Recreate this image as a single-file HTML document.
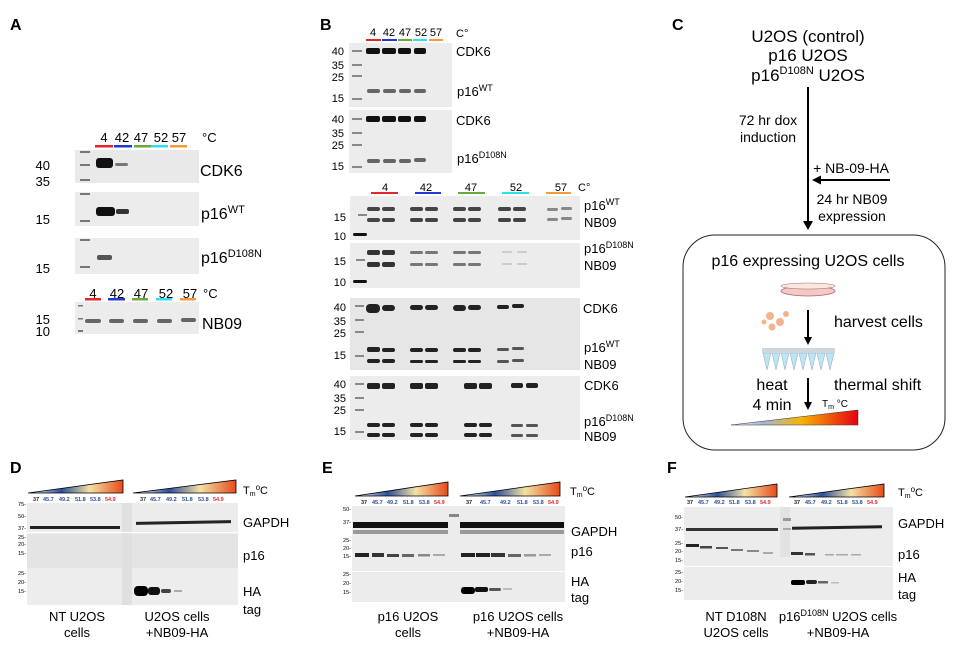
<!DOCTYPE html>
<html><head><meta charset="utf-8"><style>
html,body{margin:0;padding:0;background:#fff}
svg{display:block;font-family:"Liberation Sans",Arial,sans-serif}
</style></head><body>
<svg width="966" height="655" viewBox="0 0 966 655" xmlns="http://www.w3.org/2000/svg">
<defs>
<linearGradient id="tg" x1="0" x2="1" y1="0" y2="0">
<stop offset="0" stop-color="#fff"/><stop offset="0.35" stop-color="#2a4f9a"/><stop offset="0.65" stop-color="#f3e2a4"/><stop offset="1" stop-color="#e84a1a"/></linearGradient>
<linearGradient id="tg2" x1="0" x2="1"><stop offset="0" stop-color="#fff"/><stop offset="0.25" stop-color="#9fb6dc"/><stop offset="0.55" stop-color="#f8b400"/><stop offset="1" stop-color="#e60012"/></linearGradient>
</defs>
<g font-weight="bold" font-size="16"><text x="10" y="30">A</text><text x="320" y="30">B</text><text x="672" y="30">C</text><text x="10" y="473">D</text><text x="322" y="473">E</text><text x="667" y="473">F</text></g>

<!-- PANEL A -->
<g font-size="13" text-anchor="middle">
<text x="104" y="142">4</text><text x="122" y="142">42</text><text x="141" y="142">47</text><text x="161" y="142">52</text><text x="179" y="142">57</text>
</g>
<text x="202" y="142" font-size="13">°C</text>
<rect x="95" y="145" width="18" height="2.5" fill="#e8262a"/><rect x="114" y="145" width="18" height="2.5" fill="#2436d6"/><rect x="134" y="145" width="17" height="2.5" fill="#6aaa3a"/><rect x="151" y="145" width="17" height="2.5" fill="#2de0ee"/><rect x="170" y="145" width="17" height="2.5" fill="#f59a3a"/>
<rect x="75" y="150" width="124" height="33" fill="#e9e9e9"/>
<rect x="75" y="192" width="124" height="34" fill="#ececec"/>
<rect x="75" y="238" width="124" height="36" fill="#ececec"/>
<rect x="75" y="302" width="124" height="32" fill="#ececec"/>
<g fill="#777"><rect x="80" y="151" width="10" height="2"/><rect x="80" y="164" width="10" height="2"/><rect x="80" y="179" width="10" height="2"/><rect x="80" y="193" width="10" height="2"/><rect x="80" y="220" width="10" height="2"/><rect x="80" y="239" width="10" height="2"/><rect x="80" y="266" width="10" height="2"/><rect x="78" y="305" width="5" height="1.5"/><rect x="78" y="318" width="5" height="1.5"/><rect x="78" y="330" width="5" height="2"/></g>
<rect x="96" y="158" width="17" height="10" rx="3" fill="#111"/><rect x="115" y="163" width="13" height="3" rx="1.5" fill="#777"/>
<rect x="96" y="207" width="19" height="9" rx="3" fill="#111"/><rect x="116" y="209" width="13" height="5" rx="2" fill="#333"/>
<rect x="97" y="255" width="15" height="5" rx="2" fill="#555"/>
<g fill="#666"><rect x="85" y="319" width="16" height="4" rx="2"/><rect x="109" y="319" width="15" height="4" rx="2"/><rect x="133" y="319" width="15" height="4" rx="2"/><rect x="157" y="319" width="15" height="4" rx="2"/><rect x="181" y="318" width="15" height="4" rx="2"/></g>
<g font-size="13" text-anchor="end"><text x="50" y="170">40</text><text x="50" y="186">35</text><text x="50" y="224">15</text><text x="50" y="273">15</text><text x="50" y="324">15</text><text x="50" y="336">10</text></g>
<g font-size="16"><text x="200" y="176">CDK6</text><text x="201" y="219">p16<tspan font-size="11" dy="-6">WT</tspan></text><text x="201" y="263">p16<tspan font-size="11" dy="-6">D108N</tspan></text><text x="202" y="329">NB09</text></g>
<g font-size="13" text-anchor="middle"><text x="93" y="298">4</text><text x="117" y="298">42</text><text x="141" y="298">47</text><text x="166" y="298">52</text><text x="190" y="298">57</text></g>
<text x="203" y="298" font-size="13">°C</text>
<rect x="85" y="298" width="16" height="2.5" fill="#e8262a"/><rect x="108" y="298" width="17" height="2.5" fill="#2436d6"/><rect x="132" y="298" width="16" height="2.5" fill="#6aaa3a"/><rect x="156" y="298" width="16" height="2.5" fill="#2de0ee"/><rect x="180" y="298" width="16" height="2.5" fill="#f59a3a"/>

<!-- PANEL B top -->
<g font-size="11" text-anchor="middle"><text x="373" y="36">4</text><text x="389" y="36">42</text><text x="405" y="36">47</text><text x="421" y="36">52</text><text x="436" y="36">57</text></g>
<text x="456" y="37" font-size="11">C°</text>
<rect x="366" y="39" width="15" height="2" fill="#e8262a"/><rect x="382" y="39" width="15" height="2" fill="#2436d6"/><rect x="398" y="39" width="14" height="2" fill="#6aaa3a"/><rect x="413" y="39" width="14" height="2" fill="#2de0ee"/><rect x="429" y="39" width="14" height="2" fill="#f59a3a"/>
<rect x="349" y="43" width="103" height="64" fill="#ececec"/>
<rect x="349" y="110" width="103" height="63" fill="#ececec"/>
<g fill="#888"><rect x="352" y="50" width="10" height="2"/><rect x="352" y="64" width="10" height="2"/><rect x="352" y="75" width="10" height="2"/><rect x="352" y="98" width="10" height="2"/><rect x="352" y="118" width="10" height="2"/><rect x="352" y="132" width="10" height="2"/><rect x="352" y="144" width="10" height="2"/><rect x="352" y="166" width="10" height="2"/></g>
<g fill="#111"><rect x="366" y="48" width="14" height="6" rx="2"/><rect x="382" y="48" width="14" height="6" rx="2"/><rect x="398" y="48" width="13" height="6" rx="2"/><rect x="414" y="48" width="12" height="6" rx="2"/>
<rect x="366" y="116" width="14" height="6" rx="2"/><rect x="382" y="116" width="14" height="6" rx="2"/><rect x="398" y="116" width="13" height="6" rx="2"/><rect x="414" y="116" width="12" height="6" rx="2"/></g>
<g fill="#666"><rect x="367" y="89" width="13" height="4" rx="2"/><rect x="383" y="89" width="13" height="4" rx="2"/><rect x="399" y="89" width="12" height="4" rx="2"/><rect x="414" y="89" width="12" height="4" rx="2"/>
<rect x="367" y="159" width="13" height="4" rx="2"/><rect x="383" y="159" width="13" height="4" rx="2"/><rect x="399" y="159" width="12" height="4" rx="2"/><rect x="414" y="158" width="12" height="4" rx="2"/></g>
<g font-size="11" text-anchor="end"><text x="344" y="55">40</text><text x="344" y="69">35</text><text x="344" y="81">25</text><text x="344" y="102">15</text><text x="344" y="123">40</text><text x="344" y="137">35</text><text x="344" y="149">25</text><text x="344" y="170">15</text></g>
<g font-size="13"><text x="456" y="56">CDK6</text><text x="457" y="96">p16<tspan font-size="9" dy="-5">WT</tspan></text><text x="456" y="125">CDK6</text><text x="457" y="163">p16<tspan font-size="9" dy="-5">D108N</tspan></text></g>

<!-- PANEL B bottom -->
<g font-size="11" text-anchor="middle"><text x="385" y="191">4</text><text x="426" y="191">42</text><text x="471" y="191">47</text><text x="516" y="191">52</text><text x="561" y="191">57</text></g>
<text x="578" y="191" font-size="11">C°</text>
<rect x="371" y="192" width="27" height="2" fill="#e8262a"/><rect x="415" y="192" width="26" height="2" fill="#2436d6"/><rect x="458" y="192" width="27" height="2" fill="#6aaa3a"/><rect x="502" y="192" width="27" height="2" fill="#2de0ee"/><rect x="546" y="192" width="25" height="2" fill="#f59a3a"/>
<rect x="350" y="196" width="230" height="44" fill="#ececec"/>
<rect x="350" y="243" width="230" height="45" fill="#ececec"/>
<rect x="350" y="298" width="230" height="72" fill="#e6e6e6"/>
<rect x="350" y="376" width="230" height="64" fill="#ececec"/>
<g fill="#888"><rect x="358" y="214" width="9" height="2"/><rect x="356" y="259" width="9" height="2"/><rect x="355" y="305" width="9" height="2"/><rect x="355" y="319" width="9" height="2"/><rect x="355" y="331" width="9" height="2"/><rect x="355" y="355" width="9" height="2"/><rect x="355" y="383" width="9" height="2"/><rect x="355" y="397" width="9" height="2"/><rect x="355" y="409" width="9" height="2"/><rect x="355" y="431" width="9" height="2"/></g>
<g fill="#111"><rect x="353" y="233" width="14" height="3" rx="1.5"/><rect x="353" y="280" width="14" height="3" rx="1.5"/></g>
<g fill="#444">
<rect x="367" y="207" width="13" height="4" rx="2"/><rect x="382" y="207" width="13" height="4" rx="2"/><rect x="410" y="207" width="13" height="4" rx="2"/><rect x="425" y="207" width="13" height="4" rx="2"/><rect x="453" y="207" width="13" height="4" rx="2"/><rect x="468" y="207" width="13" height="4" rx="2"/><rect x="498" y="207" width="13" height="4" rx="2"/><rect x="513" y="207" width="13" height="4" rx="2"/>
<rect x="367" y="218" width="13" height="4" rx="2"/><rect x="382" y="218" width="13" height="4" rx="2"/><rect x="410" y="218" width="13" height="4" rx="2"/><rect x="425" y="218" width="13" height="4" rx="2"/><rect x="453" y="218" width="13" height="4" rx="2"/><rect x="468" y="218" width="13" height="4" rx="2"/><rect x="498" y="218" width="13" height="4" rx="2"/><rect x="513" y="218" width="13" height="4" rx="2"/>
</g>
<g fill="#888"><rect x="547" y="208" width="11" height="3" rx="1.5"/><rect x="561" y="207" width="11" height="3" rx="1.5"/><rect x="547" y="218" width="11" height="3" rx="1.5"/><rect x="561" y="217" width="11" height="3" rx="1.5"/></g>
<g fill="#333"><rect x="367" y="250" width="13" height="5" rx="2"/><rect x="382" y="250" width="13" height="5" rx="2"/><rect x="367" y="262" width="13" height="5" rx="2"/><rect x="382" y="262" width="13" height="5" rx="2"/></g>
<g fill="#777"><rect x="410" y="251" width="13" height="3" rx="1.5"/><rect x="425" y="251" width="13" height="3" rx="1.5"/><rect x="410" y="263" width="13" height="3" rx="1.5"/><rect x="425" y="263" width="13" height="3" rx="1.5"/><rect x="453" y="251" width="13" height="3" rx="1.5"/><rect x="468" y="251" width="13" height="3" rx="1.5"/><rect x="453" y="263" width="13" height="3" rx="1.5"/><rect x="468" y="263" width="13" height="3" rx="1.5"/></g>
<g fill="#ccc"><rect x="502" y="251" width="10" height="2"/><rect x="517" y="251" width="10" height="2"/><rect x="502" y="263" width="10" height="2"/><rect x="517" y="263" width="10" height="2"/></g>
<g fill="#222">
<rect x="366" y="304" width="14" height="9" rx="4"/><rect x="382" y="305" width="13" height="6" rx="3"/><rect x="410" y="305" width="13" height="5" rx="2.5"/><rect x="425" y="305" width="13" height="5" rx="2.5"/><rect x="453" y="305" width="13" height="6" rx="3"/><rect x="468" y="305" width="13" height="5" rx="2.5"/><rect x="497" y="305" width="12" height="4" rx="2"/><rect x="512" y="304" width="12" height="4" rx="2"/>
<rect x="367" y="347" width="13" height="5" rx="2"/><rect x="382" y="348" width="13" height="4" rx="2"/><rect x="410" y="348" width="13" height="4" rx="2"/><rect x="425" y="348" width="13" height="4" rx="2"/><rect x="453" y="348" width="13" height="4" rx="2"/><rect x="468" y="348" width="13" height="4" rx="2"/>
<rect x="367" y="359" width="13" height="4" rx="2"/><rect x="382" y="359" width="13" height="4" rx="2"/><rect x="410" y="360" width="13" height="3" rx="1.5"/><rect x="425" y="360" width="13" height="3" rx="1.5"/><rect x="453" y="360" width="13" height="3" rx="1.5"/><rect x="468" y="360" width="13" height="3" rx="1.5"/>
<rect x="367" y="383" width="13" height="6" rx="2"/><rect x="382" y="383" width="13" height="6" rx="2"/><rect x="410" y="383" width="13" height="6" rx="2"/><rect x="425" y="383" width="13" height="6" rx="2"/><rect x="464" y="383" width="13" height="6" rx="2"/><rect x="479" y="383" width="13" height="6" rx="2"/><rect x="511" y="383" width="12" height="5" rx="2"/><rect x="526" y="383" width="12" height="5" rx="2"/>
<rect x="367" y="423" width="13" height="4" rx="2"/><rect x="382" y="423" width="13" height="4" rx="2"/><rect x="410" y="423" width="13" height="4" rx="2"/><rect x="425" y="423" width="13" height="4" rx="2"/><rect x="464" y="423" width="13" height="4" rx="2"/><rect x="479" y="423" width="13" height="4" rx="2"/>
<rect x="367" y="433" width="13" height="4" rx="2"/><rect x="382" y="433" width="13" height="4" rx="2"/><rect x="410" y="433" width="13" height="4" rx="2"/><rect x="425" y="433" width="13" height="4" rx="2"/><rect x="464" y="433" width="13" height="4" rx="2"/><rect x="479" y="433" width="13" height="4" rx="2"/>
</g>
<g fill="#555"><rect x="497" y="348" width="12" height="3" rx="1.5"/><rect x="512" y="347" width="12" height="3" rx="1.5"/><rect x="497" y="360" width="12" height="3" rx="1.5"/><rect x="512" y="359" width="12" height="3" rx="1.5"/><rect x="511" y="424" width="12" height="3" rx="1.5"/><rect x="526" y="424" width="12" height="3" rx="1.5"/><rect x="511" y="434" width="12" height="3" rx="1.5"/><rect x="526" y="434" width="12" height="3" rx="1.5"/></g>
<g font-size="11" text-anchor="end"><text x="346" y="221">15</text><text x="346" y="240">10</text><text x="346" y="265">15</text><text x="346" y="286">10</text><text x="346" y="311">40</text><text x="346" y="325">35</text><text x="346" y="337">25</text><text x="346" y="359">15</text><text x="346" y="388">40</text><text x="346" y="402">35</text><text x="346" y="414">25</text><text x="346" y="435">15</text></g>
<g font-size="13"><text x="584" y="210">p16<tspan font-size="9" dy="-5">WT</tspan></text><text x="584" y="227">NB09</text><text x="584" y="253">p16<tspan font-size="9" dy="-5">D108N</tspan></text><text x="584" y="270">NB09</text><text x="583" y="313">CDK6</text><text x="584" y="352">p16<tspan font-size="9" dy="-5">WT</tspan></text><text x="584" y="369">NB09</text><text x="584" y="390">CDK6</text><text x="584" y="426">p16<tspan font-size="9" dy="-5">D108N</tspan></text><text x="584" y="441">NB09</text></g>

<!-- PANEL C -->
<g font-size="17" text-anchor="middle"><text x="808" y="42">U2OS (control)</text><text x="808" y="61">p16 U2OS</text><text x="808" y="81">p16<tspan font-size="11" dy="-7">D108N</tspan><tspan dy="7"> U2OS</tspan></text></g>
<line x1="808" y1="87" x2="808" y2="222" stroke="#000" stroke-width="2"/><polygon points="803,221 813,221 808,230" fill="#000"/>
<g font-size="14" text-anchor="middle"><text x="768" y="125">72 hr dox</text><text x="768" y="142">induction</text><text x="851" y="173">+ NB-09-HA</text><text x="852" y="204">24 hr NB09</text><text x="852" y="221">expression</text></g>
<line x1="890" y1="180" x2="818" y2="180" stroke="#000" stroke-width="2"/><polygon points="812,180 821,175.5 821,184.5" fill="#000"/>
<rect x="683" y="235" width="262" height="215" rx="32" fill="none" stroke="#222" stroke-width="1"/>
<text x="808" y="266" font-size="16" text-anchor="middle">p16 expressing U2OS cells</text>
<ellipse cx="808" cy="291" rx="27" ry="5" fill="#f3c9c3" stroke="#a66" stroke-width="0.8"/><ellipse cx="808" cy="286" rx="27" ry="3" fill="#fbe6e2" stroke="#a66" stroke-width="0.6"/>
<g fill="#f2b48c"><circle cx="770" cy="316" r="4"/><circle cx="780" cy="322" r="4"/><circle cx="772" cy="327" r="3.5"/><circle cx="786" cy="314" r="3"/><circle cx="764" cy="322" r="2.5"/></g>
<line x1="808" y1="310" x2="808" y2="338" stroke="#000" stroke-width="2"/><polygon points="804,337 812,337 808,345" fill="#000"/>
<text x="834" y="327" font-size="16">harvest cells</text>
<g fill="#bfe4f4" stroke="#8ab" stroke-width="0.5"><polygon points="763,353 771,353 767,370"/><polygon points="772,353 780,353 776,370"/><polygon points="781,353 789,353 785,370"/><polygon points="790,353 798,353 794,370"/><polygon points="799,353 807,353 803,370"/><polygon points="808,353 816,353 812,370"/><polygon points="817,353 825,353 821,370"/><polygon points="826,353 834,353 830,370"/></g>
<rect x="762" y="348" width="73" height="5" fill="#cfd6dc"/>
<line x1="808" y1="378" x2="808" y2="403" stroke="#000" stroke-width="2"/><polygon points="804,402 812,402 808,410" fill="#000"/>
<g font-size="16"><text x="772" y="390" text-anchor="middle">heat</text><text x="772" y="410" text-anchor="middle">4 min</text><text x="834" y="390">thermal shift</text></g>
<text x="822" y="407" font-size="10">T<tspan font-size="7" dy="2">m</tspan><tspan dy="-2"> °C</tspan></text>
<polygon points="731,425 858,410 858,425" fill="url(#tg2)" stroke="#333" stroke-width="0.5"/>

<!-- PANEL D -->
<polygon points="28,493 123,480 123,493" fill="url(#tg)" stroke="#000" stroke-width="0.8"/>
<polygon points="133,493 236,480 236,493" fill="url(#tg)" stroke="#000" stroke-width="0.8"/>
<text x="243" y="494" font-size="11">T<tspan font-size="7" dy="2">m</tspan><tspan font-size="8" dy="-6">o</tspan><tspan dy="4">C</tspan></text>
<g font-size="5.5" font-weight="bold"><text x="33" y="501" fill="#222">37</text><text x="43" y="501" fill="#2a4f9a">45.7</text><text x="59" y="501" fill="#2a4f9a">49.2</text><text x="75" y="501" fill="#2a4f9a">51.8</text><text x="90" y="501" fill="#2a4f9a">53.8</text><text x="105" y="501" fill="#e8262a">54.9</text>
<text x="140" y="501" fill="#222">37</text><text x="150" y="501" fill="#2a4f9a">45.7</text><text x="166" y="501" fill="#2a4f9a">49.2</text><text x="182" y="501" fill="#2a4f9a">51.8</text><text x="198" y="501" fill="#2a4f9a">53.8</text><text x="213" y="501" fill="#e8262a">54.9</text></g>
<rect x="27" y="503" width="211" height="31" fill="#ececec"/><rect x="27" y="534" width="211" height="34" fill="#e4e4e4"/><rect x="27" y="568" width="211" height="37" fill="#ededed"/>
<rect x="122" y="503" width="10" height="102" fill="#e0e0e0"/>
<rect x="27" y="532" width="211" height="1" fill="#fff"/>
<rect x="30" y="526" width="90" height="3" fill="#222"/><rect x="136" y="521" width="95" height="3" fill="#222" transform="rotate(-1 183 522)"/>
<rect x="134" y="586" width="14" height="10" rx="4" fill="#000"/><rect x="148" y="587" width="12" height="8" rx="3" fill="#111"/><rect x="161" y="589" width="10" height="4" rx="2" fill="#444"/><rect x="174" y="590" width="8" height="2" fill="#aaa"/>
<g font-size="5.5" text-anchor="end"><text x="26" y="506">75-</text><text x="26" y="518">50-</text><text x="26" y="530">37-</text><text x="26" y="539">25-</text><text x="26" y="546">20-</text><text x="26" y="555">15-</text><text x="26" y="575">25-</text><text x="26" y="584">20-</text><text x="26" y="593">15-</text></g>
<g font-size="13"><text x="243" y="527">GAPDH</text><text x="243" y="560">p16</text><text x="243" y="596">HA</text><text x="243" y="614">tag</text></g>
<g font-size="13" text-anchor="middle"><text x="77" y="621">NT U2OS</text><text x="77" y="637">cells</text><text x="177" y="621">U2OS cells</text><text x="177" y="637">+NB09-HA</text></g>

<!-- PANEL E -->
<polygon points="355,496 448,482 448,496" fill="url(#tg)" stroke="#000" stroke-width="0.8"/>
<polygon points="460,496 560,482 560,496" fill="url(#tg)" stroke="#000" stroke-width="0.8"/>
<text x="570" y="495" font-size="11">T<tspan font-size="7" dy="2">m</tspan><tspan font-size="8" dy="-6">o</tspan><tspan dy="4">C</tspan></text>
<g font-size="5.5" font-weight="bold"><text x="361" y="504" fill="#222">37</text><text x="372" y="504" fill="#2a4f9a">45.7</text><text x="387" y="504" fill="#2a4f9a">49.2</text><text x="403" y="504" fill="#2a4f9a">51.8</text><text x="419" y="504" fill="#2a4f9a">53.8</text><text x="434" y="504" fill="#e8262a">54.9</text>
<text x="466" y="504" fill="#222">37</text><text x="480" y="504" fill="#2a4f9a">45.7</text><text x="500" y="504" fill="#2a4f9a">49.2</text><text x="517" y="504" fill="#2a4f9a">51.8</text><text x="533" y="504" fill="#2a4f9a">53.8</text><text x="548" y="504" fill="#e8262a">54.9</text></g>
<rect x="352" y="506" width="213" height="96" fill="#ececec"/>
<rect x="352" y="571" width="213" height="1" fill="#fff"/>
<rect x="353" y="522" width="95" height="6" fill="#111"/><rect x="460" y="522" width="104" height="6" fill="#111"/>
<rect x="353" y="530" width="95" height="4" fill="#999"/><rect x="460" y="530" width="104" height="4" fill="#999"/>
<rect x="449" y="514" width="10" height="3" fill="#888"/>
<rect x="355" y="553" width="14" height="4" fill="#222"/><rect x="372" y="553" width="12" height="4" fill="#333"/><rect x="387" y="554" width="12" height="3" fill="#444"/><rect x="402" y="554" width="12" height="3" fill="#666"/><rect x="418" y="554" width="12" height="2.5" fill="#888"/><rect x="433" y="554" width="12" height="2" fill="#aaa"/>
<rect x="461" y="553" width="14" height="4" fill="#222"/><rect x="476" y="553" width="14" height="4" fill="#222"/><rect x="491" y="553" width="14" height="4" fill="#333"/><rect x="508" y="554" width="13" height="3" fill="#666"/><rect x="524" y="554" width="12" height="2.5" fill="#999"/><rect x="539" y="554" width="12" height="2" fill="#aaa"/>
<rect x="461" y="587" width="14" height="7" rx="3" fill="#000"/><rect x="475" y="587" width="13" height="5" rx="2" fill="#111"/><rect x="489" y="588" width="12" height="3" rx="1.5" fill="#555"/><rect x="503" y="588" width="9" height="2" fill="#bbb"/>
<g font-size="5.5" text-anchor="end"><text x="351" y="511">50-</text><text x="351" y="524">37-</text><text x="351" y="542">25-</text><text x="351" y="550">20-</text><text x="351" y="558">15-</text><text x="351" y="576">25-</text><text x="351" y="585">20-</text><text x="351" y="594">15-</text></g>
<g font-size="13"><text x="571" y="536">GAPDH</text><text x="571" y="556">p16</text><text x="571" y="586">HA</text><text x="571" y="602">tag</text></g>
<g font-size="13" text-anchor="middle"><text x="408" y="621">p16 U2OS</text><text x="408" y="637">cells</text><text x="518" y="621">p16 U2OS cells</text><text x="518" y="637">+NB09-HA</text></g>

<!-- PANEL F -->
<polygon points="685,497 777,484 777,497" fill="url(#tg)" stroke="#000" stroke-width="0.8"/>
<polygon points="789,497 884,484 884,497" fill="url(#tg)" stroke="#000" stroke-width="0.8"/>
<text x="898" y="496" font-size="11">T<tspan font-size="7" dy="2">m</tspan><tspan font-size="8" dy="-6">o</tspan><tspan dy="4">C</tspan></text>
<g font-size="5.5" font-weight="bold"><text x="687" y="504" fill="#222">37</text><text x="698" y="504" fill="#2a4f9a">45.7</text><text x="714" y="504" fill="#2a4f9a">49.2</text><text x="729" y="504" fill="#2a4f9a">51.8</text><text x="745" y="504" fill="#2a4f9a">53.8</text><text x="760" y="504" fill="#e8262a">54.9</text>
<text x="794" y="504" fill="#222">37</text><text x="805" y="504" fill="#2a4f9a">45.7</text><text x="821" y="504" fill="#2a4f9a">49.2</text><text x="837" y="504" fill="#2a4f9a">51.8</text><text x="852" y="504" fill="#2a4f9a">53.8</text><text x="867" y="504" fill="#e8262a">54.9</text></g>
<rect x="684" y="507" width="209" height="93" fill="#ececec"/>
<rect x="684" y="566" width="209" height="1" fill="#fff"/>
<rect x="780" y="507" width="10" height="50" fill="#e2e2e2"/>
<rect x="783" y="518" width="8" height="3" fill="#999"/><rect x="783" y="528" width="8" height="2" fill="#aaa"/>
<rect x="686" y="528" width="92" height="3" fill="#333"/><rect x="792" y="526" width="90" height="3" fill="#222" transform="rotate(-1 837 527)"/>
<rect x="686" y="544" width="13" height="3" fill="#222"/><rect x="700" y="546" width="12" height="2.5" fill="#444"/><rect x="716" y="547" width="12" height="2" fill="#555"/><rect x="731" y="549" width="12" height="2" fill="#777"/><rect x="747" y="550" width="12" height="2" fill="#888"/><rect x="763" y="552" width="10" height="2" fill="#aaa"/>
<rect x="791" y="552" width="12" height="3" fill="#333"/><rect x="805" y="553" width="10" height="2.5" fill="#555"/><rect x="825" y="554" width="9" height="1.5" fill="#aaa"/><rect x="836" y="554" width="12" height="1.5" fill="#aaa"/><rect x="851" y="554" width="10" height="1.5" fill="#aaa"/>
<rect x="791" y="580" width="14" height="5" rx="2" fill="#000"/><rect x="806" y="580" width="11" height="4" rx="2" fill="#222"/><rect x="818" y="581" width="10" height="2.5" fill="#666"/><rect x="831" y="582" width="8" height="1.5" fill="#bbb"/>
<g font-size="5.5" text-anchor="end"><text x="683" y="519">50-</text><text x="683" y="531">37-</text><text x="683" y="545">25-</text><text x="683" y="553">20-</text><text x="683" y="562">15-</text><text x="683" y="574">25-</text><text x="683" y="583">20-</text><text x="683" y="592">15-</text></g>
<g font-size="13"><text x="898" y="528">GAPDH</text><text x="898" y="559">p16</text><text x="898" y="582">HA</text><text x="898" y="599">tag</text></g>
<g font-size="13" text-anchor="middle"><text x="736" y="621">NT D108N</text><text x="736" y="637">U2OS cells</text><text x="838" y="621">p16<tspan font-size="9" dy="-5">D108N</tspan><tspan dy="5"> U2OS cells</tspan></text><text x="838" y="637">+NB09-HA</text></g>
</svg>
</body></html>
